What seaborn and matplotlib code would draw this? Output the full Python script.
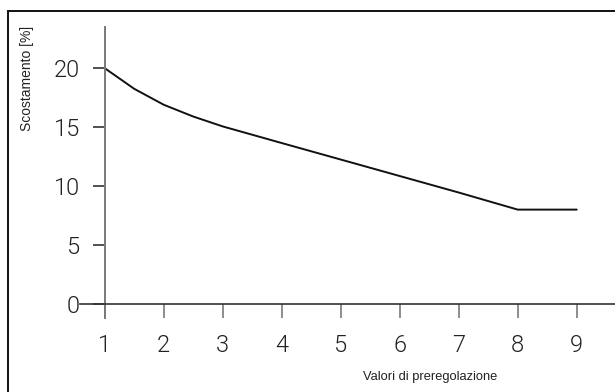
import matplotlib
matplotlib.use("Agg")
import matplotlib.pyplot as plt
import seaborn as sns
import pandas as pd
from matplotlib.patches import Rectangle

# Data
preset = [1, 1.5, 2, 2.5, 3, 4, 5, 6, 7, 8, 9]
deviation = [20.0, 18.25, 16.9, 15.9, 15.06, 13.65, 12.25, 10.85, 9.45, 8.0, 8.0]
xticks = [1, 2, 3, 4, 5, 6, 7, 8, 9]
yticks = [0, 5, 10, 15, 20]
xlabel = "Valori di preregolazione"
ylabel = "Scostamento [%]"

sns.set_style("white")
plt.rcParams['font.family'] = ['Liberation Sans', 'DejaVu Sans']

W, H = 615, 392
fig = plt.figure(figsize=(W / 100, H / 100), dpi=100)

# figure border (left & top visible)
fig.patches.append(Rectangle((8 / W, -0.05), 1.2, (H - 11) / H + 0.05, transform=fig.transFigure,
                             fill=False, edgecolor='#111111', linewidth=1.4, zorder=0))

ax_l, ax_r = 80, 618
ax_t, ax_b = 27, 318
ax = fig.add_axes([ax_l / W, 1 - ax_b / H, (ax_r - ax_l) / W, (ax_b - ax_t) / H])
ax.patch.set_alpha(0)

df = pd.DataFrame({"x": preset, "y": deviation})
sns.lineplot(data=df, x="x", y="y", ax=ax, color='#111111', linewidth=1.4)

ax.set_xlim(0.58, 9.70)
ax.set_ylim(-1.2, 23.5)

for s in ['top', 'right']:
    ax.spines[s].set_visible(False)
ax.spines['left'].set_position(('data', 1))
ax.spines['bottom'].set_position(('data', 0))
ax.spines['left'].set_color('#7a7a7a')
ax.spines['left'].set_linewidth(1.4)
ax.spines['bottom'].set_color('#333333')
ax.spines['bottom'].set_linewidth(1.2)

ax.set_xticks(xticks)
ax.set_yticks(yticks)
ax.tick_params(axis='x', direction='out', length=10, width=1.2, color='#7a7a7a', pad=12,
               bottom=True, labelsize=17, labelcolor='#222222')
ax.tick_params(axis='y', direction='out', length=9, width=1.2, color='#333333', pad=9,
               left=True, labelsize=17, labelcolor='#222222')
for lab in ax.get_xticklabels() + ax.get_yticklabels():
    lab.set_family(['Roboto', 'DejaVu Sans'])
    lab.set_fontweight(300)

ax.set_xlabel("")
ax.set_ylabel("")
fig.text(497 / W, 1 - 377 / H, xlabel, ha='right', va='center', fontsize=9.3, color='#222222')
fig.text(27 / W, 1 - 78 / H, ylabel, ha='center', va='center', rotation=90, fontsize=10, color='#222222')

fig.savefig("out.png", dpi=100)
